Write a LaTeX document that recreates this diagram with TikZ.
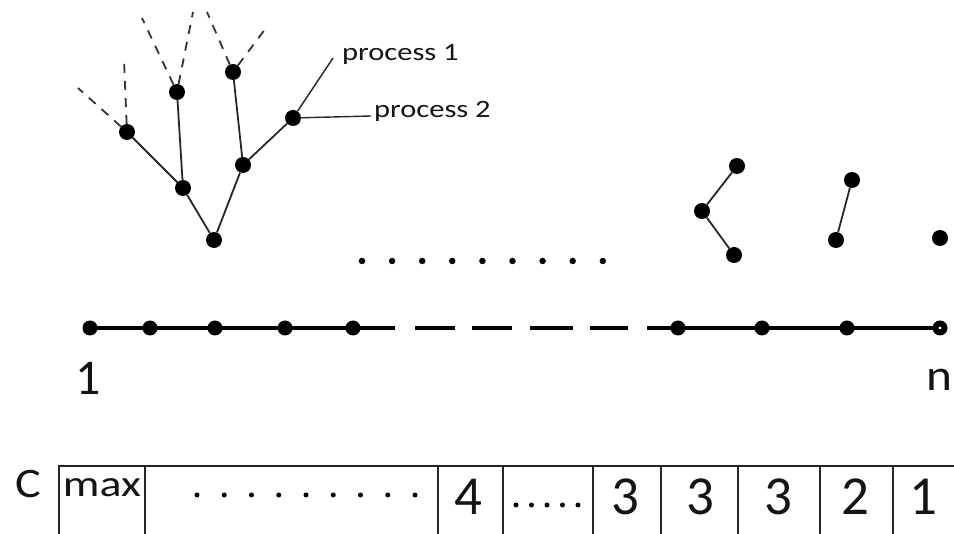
\documentclass[tikz,border=0pt]{standalone}
\usepackage{fontspec}
\setmainfont{Carlito}
\usepackage{graphicx}
\begin{document}
\begin{tikzpicture}[x=1pt,y=-1pt,
  dot/.style={circle,fill=black,inner sep=0pt,minimum size=16pt},
  ldot/.style={circle,fill=black,inner sep=0pt,minimum size=15pt},
  sdot/.style={circle,fill=black,inner sep=0pt,minimum size=6.5pt},
  edge/.style={line width=1.8pt,black!85},
  dsh/.style={line width=1.8pt,black!80,dash pattern=on 9pt off 8pt},
  nline/.style={line width=4.2pt,black},
  grid/.style={line width=1.6pt,black!85},
  txt/.style={inner sep=0pt,text=black!92},
]
\useasboundingbox (0,0) rectangle (954,534);
% ---------- tree ----------
\node[dot] (root) at (214,240) {};
\node[dot] (lm) at (183,188) {};
\node[dot] (ll) at (127,132) {};
\node[dot] (ml) at (177,92) {};
\node[dot] (rm) at (243,165) {};
\node[dot] (tp) at (233,72) {};
\node[dot] (rt) at (293,118) {};
\draw[edge] (root) -- (lm);
\draw[edge] (lm) -- (ll);
\draw[edge] (lm) -- (ml);
\draw[edge] (root) -- (rm);
\draw[edge] (rm) -- (tp);
\draw[edge] (rm) -- (rt);
% dashed continuations
\coordinate (e1) at (124,60);
\coordinate (e2) at (78,88);
\coordinate (e3) at (142,18);
\coordinate (e4) at (193,12);
\coordinate (e5) at (207,12);
\coordinate (e6) at (266,28);
\draw[dsh] (ll) -- (e1);
\draw[dsh] (ll) -- (e2);
\draw[dsh] (ml) -- (e3);
\draw[dsh] (ml) -- (e4);
\draw[dsh] (tp) -- (e5);
\draw[dsh] (tp) -- (e6);
% process labels
\coordinate (p1e) at (333,58);
\coordinate (p2e) at (371,116);
\draw[edge,line width=1.4pt] (rt) -- (p1e);
\draw[edge,line width=1.4pt] (rt) -- (p2e);
\node[txt,anchor=base west,font=\fontsize{25}{25}\selectfont] (pr1) at (342,61) {\scalebox{1.22}[1]{process 1}};
\node[txt,anchor=base west,font=\fontsize{25}{25}\selectfont] (pr2) at (374,118) {\scalebox{1.22}[1]{process 2}};
% ---------- middle dots ----------
\foreach \i in {0,...,8} {
  \node[sdot] (md\i) at ({362+30.1*\i},261) {};
}
% ---------- right groups ----------
\node[dot] (ga) at (737,166) {};
\node[dot] (gb) at (702,211) {};
\node[dot] (gc) at (734,255) {};
\node[dot] (ha) at (852,180) {};
\node[dot] (hb) at (836,240) {};
\node[dot] (ka) at (940,238) {};
\draw[edge] (ga) -- (gb);
\draw[edge] (gb) -- (gc);
\draw[edge] (ha) -- (hb);
% ---------- number line ----------
\foreach \n/\x in {1/90,2/150,3/215,4/285,5/353,6/678,7/762,8/847,9/940} {
  \node[ldot] (d\n) at (\x,328) {};
}
\draw[nline] (d1.center) -- (d2.center) -- (d3.center) -- (d4.center) -- (d5.center);
\draw[nline,dash pattern={on 42pt off 20pt on 40pt off 17pt on 40pt off 18pt on 43pt off 17pt on 38pt off 19pt on 40pt}] (d5.center) -- (d6.center);
\draw[nline] (d6.center) -- (d7.center) -- (d8.center) -- (d9.center);
\fill[white] (d9.center) circle (1.6pt);
\node[txt,anchor=base,font=\fontsize{50}{50}\selectfont] (one) at (88,395) {1};
\node[txt,anchor=base,font=\fontsize{44}{44}\selectfont] (en) at (939,391) {\scalebox{1.12}[1]{n}};
% ---------- table ----------
\draw[grid] (59,534) -- (59,466) -- (954,466);
\foreach \x in {145,438,503,593,661,738,820,893} {
  \draw[grid] (\x,466) -- (\x,534);
}
\node[txt,anchor=base,font=\fontsize{42}{42}\selectfont] (cc) at (28,498) {\scalebox{1.15}[1]{C}};
\node[txt,anchor=base,font=\fontsize{37}{37}\selectfont] (mx) at (102,497) {\scalebox{1.24}[1]{max}};
\foreach \i in {0,...,8} {
  \node[sdot,minimum size=5pt] (td\i) at ({197+27.25*\i},495) {};
}
\foreach \i in {0,...,4} {
  \node[sdot,minimum size=5pt] (te\i) at ({516+15.5*\i},505) {};
}
\foreach \n/\x/\t in {a/468/4,b/625/3,c/700/3,d/778/3,e/855/2,f/923/1} {
  \node[txt,anchor=base,font=\fontsize{55}{55}\selectfont] (c\n) at (\x,515) {\t};
}
\end{tikzpicture}
\end{document}
